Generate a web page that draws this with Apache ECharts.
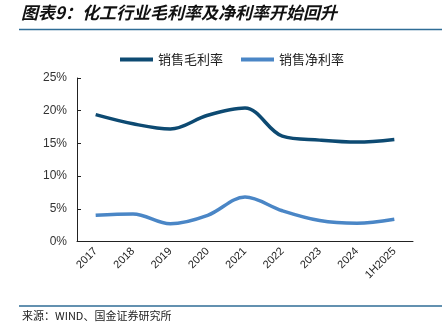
<!DOCTYPE html>
<html><head><meta charset="utf-8">
<script src="https://cdn.jsdelivr.net/npm/echarts@6/dist/echarts.min.js"></script>
<style>html,body{margin:0;padding:0;background:#fff}#c{width:442px;height:332px}</style>
</head><body><div id="c"></div>
<script>
const categories = ['2017','2018','2019','2020','2021','2022','2023','2024','1H2025'];
const grossMargin = [19.4, 18.0, 17.2, 19.3, 20.4, 16.1, 15.5, 15.2, 15.6];
const netMargin = [4.0, 4.2, 2.7, 4.0, 6.8, 4.7, 3.2, 2.8, 3.4];
const yTicks = [0, 5, 10, 15, 20, 25];
const titleText = '图表9：化工行业毛利率及净利率开始回升';
const sourceText = '来源：WIND、国金证券研究所';
const seriesNames = ['销售毛利率', '销售净利率'];

const chart = echarts.init(document.getElementById('c'), null, {renderer: 'canvas'});
chart.setOption({
  animation: false,
  backgroundColor: '#fff',
  textStyle: {fontFamily: 'Liberation Sans, Arial, sans-serif'},
  graphic: [
    {type: 'text', left: 21, top: 4, style: {text: titleText, font: 'italic bold 17px "Noto Sans CJK SC"', fill: '#111'}},
    {type: 'line', shape: {x1: 19, y1: 29.5, x2: 442, y2: 29.5}, style: {stroke: '#2f6d96', lineWidth: 1.5}},
    {type: 'line', shape: {x1: 19, y1: 306, x2: 442, y2: 306}, style: {stroke: '#2f6d96', lineWidth: 1.5}},
    {type: 'text', left: 22, top: 310, style: {text: sourceText, font: '11px "Noto Sans CJK SC"', fill: '#222'}}
  ],
  legend: {
    top: 48, left: 115,
    itemWidth: 33, itemHeight: 4, itemGap: 18,
    icon: 'rect',
    textStyle: {fontFamily: 'Noto Sans CJK SC', fontSize: 13, color: '#222'},
    data: seriesNames
  },
  grid: {left: 77, right: 29, top: 78, bottom: 90.5, containLabel: false},
  xAxis: {
    type: 'category', data: categories, boundaryGap: true,
    axisLine: {lineStyle: {color: '#222', width: 1}},
    axisTick: {inside: true, length: 4, lineStyle: {color: '#222'}},
    axisLabel: {rotate: 45, fontSize: 11, color: '#222', margin: 8, interval: 0}
  },
  yAxis: {
    type: 'value', min: 0, max: 25, interval: 5,
    splitLine: {show: false},
    axisLine: {show: true, lineStyle: {color: '#222', width: 1}},
    axisTick: {show: true, inside: true, length: 4, lineStyle: {color: '#222'}},
    axisLabel: {fontSize: 12, color: '#333', margin: 10, formatter: v => v + '%'}
  },
  series: [
    {name: seriesNames[0], type: 'line', data: grossMargin, smooth: 0.35, symbol: 'none',
     lineStyle: {color: '#0d4a72', width: 3.5}, itemStyle: {color: '#0d4a72'}},
    {name: seriesNames[1], type: 'line', data: netMargin, smooth: 0.35, symbol: 'none',
     lineStyle: {color: '#4a86c6', width: 3.5}, itemStyle: {color: '#4a86c6'}}
  ]
});
</script></body></html>
